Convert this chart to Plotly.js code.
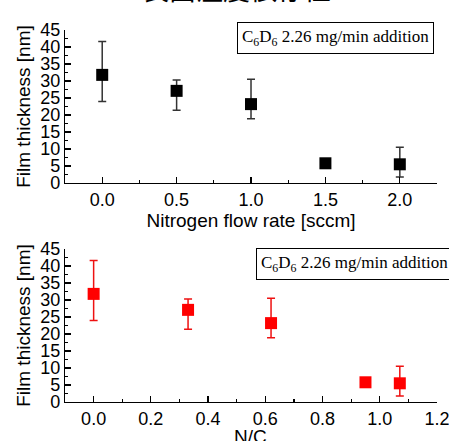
<!DOCTYPE html>
<html>
<head>
<meta charset="utf-8">
<script src="https://cdn.plot.ly/plotly-3.0.1.min.js"></script>
<style>html,body{margin:0;padding:0;background:#fff;}#chart{width:449px;height:441px;}</style>
</head>
<body>
<div id="chart"></div>
<script>
// Top panel: thickness vs nitrogen flow rate
const flowRate = [0.0, 0.5, 1.0, 1.5, 2.0];
const thickness = [31.8, 27.1, 23.2, 5.8, 5.5];
const errPlus = [9.8, 3.2, 7.3, 0.9, 5.0];
const errMinus = [7.8, 5.7, 4.3, 0.8, 3.7];
// Bottom panel: thickness vs N/C ratio
const ncRatio = [0.0, 0.33, 0.62, 0.95, 1.07];
const thicknessNC = [31.8, 27.1, 23.2, 5.8, 5.5];

const sans = "Liberation Sans, Arial, sans-serif";
const serif = "Liberation Serif, Times New Roman, serif";

const traces = [
  {
    x: flowRate, y: thickness, type: 'scatter', mode: 'markers',
    marker: {symbol: 'square', size: 12, color: '#000'},
    error_y: {type: 'data', symmetric: false, array: errPlus, arrayminus: errMinus,
              color: '#333', thickness: 1.5, width: 4},
    xaxis: 'x', yaxis: 'y', showlegend: false
  },
  {
    x: ncRatio, y: thicknessNC, type: 'scatter', mode: 'markers',
    marker: {symbol: 'square', size: 12, color: '#ff0000'},
    error_y: {type: 'data', symmetric: false, array: errPlus, arrayminus: errMinus,
              color: '#ee1111', thickness: 1.5, width: 4},
    xaxis: 'x2', yaxis: 'y2', showlegend: false
  }
];

const axCommon = {
  showline: true, linecolor: '#000', linewidth: 1.2, mirror: false,
  showgrid: false, zeroline: false, ticks: 'inside', ticklen: 6, tickwidth: 1.2,
  tickcolor: '#000', tickfont: {family: sans, size: 18, color: '#000'},
  ticklabeloverflow: 'allow'
};
const titleFont = {family: sans, size: 19, color: '#000'};

const layout = {
  width: 449, height: 441,
  margin: {l: 0, r: 0, t: 0, b: 0},
  paper_bgcolor: '#fff', plot_bgcolor: '#fff',
  xaxis: Object.assign({}, axCommon, {
    domain: [0.1448, 0.9733], anchor: 'y', range: [-0.25, 2.25],
    tickvals: [0, 0.5, 1.0, 1.5, 2.0], ticktext: ['0.0', '0.5', '1.0', '1.5', '2.0'],
    minor: {dtick: 0.25, ticks: 'inside', ticklen: 3, tickcolor: '#000', tick0: 0},
    title: {text: 'Nitrogen flow rate [sccm]', font: titleFont, standoff: 2}
  }),
  yaxis: Object.assign({}, axCommon, {
    domain: [0.585, 0.932], anchor: 'x', range: [0, 45],
    dtick: 5, tick0: 0,
    minor: {dtick: 2.5, ticks: 'inside', ticklen: 3, tickcolor: '#000', tick0: 0},
    title: {text: 'Film thickness [nm]', font: titleFont, standoff: 4}
  }),
  xaxis2: Object.assign({}, axCommon, {
    domain: [0.1448, 0.9733], anchor: 'y2', range: [-0.1, 1.2],
    tickvals: [0, 0.2, 0.4, 0.6, 0.8, 1.0, 1.2], ticktext: ['0.0', '0.2', '0.4', '0.6', '0.8', '1.0', '1.2']
  }),
  yaxis2: Object.assign({}, axCommon, {
    domain: [0.0884, 0.4354], anchor: 'x2', range: [0, 45],
    dtick: 5, tick0: 0,
    minor: {dtick: 2.5, ticks: 'inside', ticklen: 3, tickcolor: '#000', tick0: 0},
    title: {text: 'Film thickness [nm]', font: titleFont, standoff: 4}
  }),
  annotations: [
    {
      text: '表面温度依存性', xref: 'paper', yref: 'paper', x: 0.526, y: 1.0, yshift: 12,
      xanchor: 'center', yanchor: 'middle', showarrow: false,
      font: {family: 'Noto Sans CJK JP, serif', size: 27, color: '#000'}
    },
    {
      text: 'N/C', xref: 'paper', yref: 'paper', x: 0.5589, y: 1 - 436/441,
      xanchor: 'center', yanchor: 'middle', showarrow: false, font: titleFont
    },
    {
      text: 'C<sub>6</sub>D<sub>6</sub> 2.26 mg/min addition', xref: 'paper', yref: 'paper',
      x: 237/449, y: 1 - 22/441, xanchor: 'left', yanchor: 'top', showarrow: false,
      bordercolor: '#000', borderwidth: 1, borderpad: 4, bgcolor: '#fff',
      font: {family: serif, size: 17, color: '#000'}
    },
    {
      text: 'C<sub>6</sub>D<sub>6</sub> 2.26 mg/min addition', xref: 'paper', yref: 'paper',
      x: 256/449, y: 1 - 248/441, xanchor: 'left', yanchor: 'top', showarrow: false,
      bordercolor: '#000', borderwidth: 1, borderpad: 4, bgcolor: '#fff',
      font: {family: serif, size: 17, color: '#000'}
    }
  ]
};
layout.xaxis2.minor = {dtick: 0.1, ticks: 'inside', ticklen: 3, tickcolor: '#000', tick0: 0};

Plotly.newPlot('chart', traces, layout, {displayModeBar: false, staticPlot: true});
</script>
</body>
</html>
